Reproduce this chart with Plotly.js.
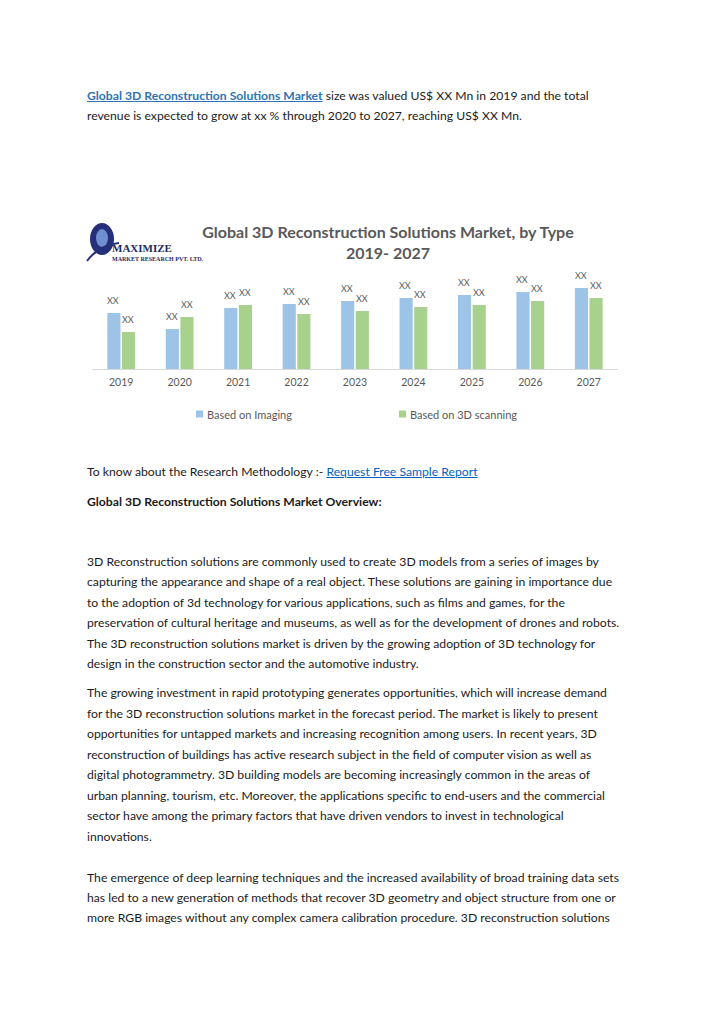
<!DOCTYPE html>
<html>
<head>
<meta charset="utf-8">
<script src="https://cdn.plot.ly/plotly-3.0.1.min.js"></script>
<style>
  html, body { margin:0; padding:0; background:#fff; }
  body { width:720px; height:1018px; position:relative; overflow:hidden; font-family: Lato, "Noto Sans", sans-serif; color:#1b1b1b; }
  .ln { position:absolute; left:87px; white-space:nowrap; font-size:12.2px; line-height:20px; height:20px; }
  .lnk { color:#2e74b5; text-decoration:underline; }
  .b { font-weight:bold; }
  #chart { position:absolute; left:85px; top:215px; width:545px; height:215px; }
</style>
</head>
<body>
<div id="text"></div>
<div id="chart"></div>
<script>
// ---- chart data ----
const years = ['2019','2020','2021','2022','2023','2024','2025','2026','2027'];
const imaging = [56, 40, 61, 65, 68, 71, 74, 77, 81];
const scanning = [37, 52, 64, 55, 58, 62, 64, 68, 71];
const valueLabel = 'XX';
const seriesNames = ['Based on Imaging', 'Based on 3D scanning'];
const titleLines = ['Global 3D Reconstruction Solutions Market, by Type', '2019- 2027'];

// ---- page text ----
const lines = [
  {y:96, html:'<span class="lnk b">Global 3D Reconstruction Solutions Market</span> size was valued US$ XX Mn in 2019 and the total'},
  {y:116, html:'revenue is expected to grow at xx % through 2020 to 2027, reaching US$ XX Mn.'},
  {y:472, html:'To know about the Research Methodology :- <span class="lnk" style="color:#0563c1">Request Free Sample Report</span>'},
  {y:502, html:'<span class="b">Global 3D Reconstruction Solutions Market Overview:</span>'},
  {y:562, html:'3D Reconstruction solutions are commonly used to create 3D models from a series of images by'},
  {y:582, html:'capturing the appearance and shape of a real object. These solutions are gaining in importance due'},
  {y:603, html:'to the adoption of 3d technology for various applications, such as films and games, for the'},
  {y:623, html:'preservation of cultural heritage and museums, as well as for the development of drones and robots.'},
  {y:644, html:'The 3D reconstruction solutions market is driven by the growing adoption of 3D technology for'},
  {y:664, html:'design in the construction sector and the automotive industry.'},
  {y:693, html:'The growing investment in rapid prototyping generates opportunities, which will increase demand'},
  {y:714, html:'for the 3D reconstruction solutions market in the forecast period. The market is likely to present'},
  {y:734, html:'opportunities for untapped markets and increasing recognition among users. In recent years, 3D'},
  {y:755, html:'reconstruction of buildings has active research subject in the field of computer vision as well as'},
  {y:775, html:'digital photogrammetry. 3D building models are becoming increasingly common in the areas of'},
  {y:796, html:'urban planning, tourism, etc. Moreover, the applications specific to end-users and the commercial'},
  {y:816, html:'sector have among the primary factors that have driven vendors to invest in technological'},
  {y:837, html:'innovations.'},
  {y:878, html:'The emergence of deep learning techniques and the increased availability of broad training data sets'},
  {y:898, html:'has led to a new generation of methods that recover 3D geometry and object structure from one or'},
  {y:918, html:'more RGB images without any complex camera calibration procedure. 3D reconstruction solutions'}
];
const tc = document.getElementById('text');
lines.forEach(l => {
  const d = document.createElement('div');
  d.className = 'ln';
  d.style.top = (l.y - 10) + 'px';
  d.innerHTML = l.html;
  tc.appendChild(d);
});

const blue = '#9dc3e6', green = '#a9d18e', gray = '#595959';
const traces = [
  {type:'bar', name:seriesNames[0], x:years, y:imaging, marker:{color:blue}, hoverinfo:'skip'},
  {type:'bar', name:seriesNames[1], x:years, y:scanning, marker:{color:green}, hoverinfo:'skip'}
];

const annotations = [];
years.forEach((yr, i) => {
  annotations.push({x:i, y:imaging[i], xref:'x', yref:'y', text:valueLabel, showarrow:false,
    xshift:-8, yshift:13, font:{family:'Lato, sans-serif', size:9, color:gray}});
  annotations.push({x:i, y:scanning[i], xref:'x', yref:'y', text:valueLabel, showarrow:false,
    xshift:7, yshift:13, font:{family:'Lato, sans-serif', size:9, color:gray}});
});
// legend (manual)
const legX = [111, 314];
seriesNames.forEach((n, i) => {
  annotations.push({xref:'paper', yref:'paper', x:(legX[i] + 9 - 7)/526, y:-0.45, xanchor:'left', yanchor:'middle',
    text:n, showarrow:false, font:{family:'Lato, sans-serif', size:11, color:gray}});
});
// logo text
annotations.push({xref:'paper', yref:'paper', x:(25-7)/526, y:(154-33)/100, xanchor:'left', yanchor:'middle',
  text:'<b>MAXIMIZE</b>', showarrow:false, font:{family:'Liberation Serif, serif', size:11, color:'#1f2a5c'}});
annotations.push({xref:'paper', yref:'paper', x:(25-7)/526, y:(154-44)/100, xanchor:'left', yanchor:'middle',
  text:'<b>MARKET RESEARCH PVT. LTD.</b>', showarrow:false, font:{family:'Liberation Serif, serif', size:6, color:'#1f2a5c'}});

const shapes = [];
const legColors = [blue, green];
legX.forEach((lx, i) => {
  const x0 = (lx - 7)/526, x1 = (lx - 7 + 7)/526;
  shapes.push({type:'rect', xref:'paper', yref:'paper', x0:x0, x1:x1, y0:-0.45-0.035, y1:-0.45+0.035,
    fillcolor:legColors[i], line:{width:0}});
});
// logo globe
function py(divY){ return (154 - divY)/100; }
function px(divX){ return (divX - 7)/526; }
shapes.push({type:'circle', xref:'paper', yref:'paper', x0:px(5), x1:px(29), y0:py(40), y1:py(8),
  fillcolor:'#26307a', line:{width:0}});
shapes.push({type:'circle', xref:'paper', yref:'paper', x0:px(11), x1:px(23), y0:py(32), y1:py(14),
  fillcolor:'#6f8fd0', line:{width:0}});
shapes.push({type:'path', xref:'paper', yref:'paper',
  path:'M '+px(2)+' '+py(46)+' Q '+px(14)+' '+py(30)+' '+px(34)+' '+py(28),
  line:{color:'#26307a', width:2}});

const layout = {
  width:545, height:215,
  margin:{l:7, r:12, t:54, b:61},
  paper_bgcolor:'#ffffff', plot_bgcolor:'#ffffff',
  barmode:'group', bargap:0.5, bargroupgap:0.1,
  showlegend:false,
  title:{text:titleLines.join('<br>'), xref:'container', yref:'container', x:303/545, y:1-23/215,
    xanchor:'center', yanchor:'middle', font:{family:'Lato, sans-serif', size:16, color:gray, weight:700}},
  xaxis:{type:'category', range:[-0.5, 8.5], showline:true, linecolor:'#d9d9d9', linewidth:1,
    ticks:'', ticklabelstandoff:3, showgrid:false, zeroline:false, tickfont:{family:'Lato, sans-serif', size:10.5, color:gray}, fixedrange:true},
  yaxis:{range:[0,100], showticklabels:false, showline:false, ticks:'', showgrid:false, zeroline:false, fixedrange:true},
  annotations:annotations, shapes:shapes
};
Plotly.newPlot('chart', traces, layout, {displayModeBar:false, staticPlot:true});
</script>
</body>
</html>
